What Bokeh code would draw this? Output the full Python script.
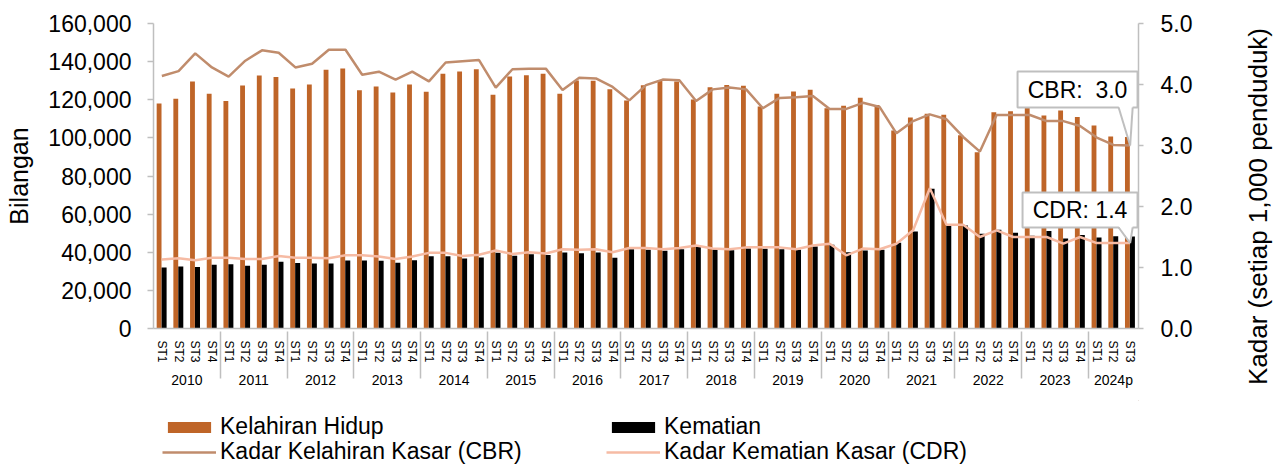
import math
from bokeh.plotting import figure
from bokeh.layouts import row, column
from bokeh.models import (FactorRange, Range1d, LinearAxis, FixedTicker, NumeralTickFormatter,
                          ColumnDataSource, Legend, LegendItem)
from bokeh.transform import dodge
from bokeh.core.properties import value
from bokeh.embed import file_html
from bokeh.resources import INLINE

# ---------------- data ----------------
years = ["2010", "2011", "2012", "2013", "2014", "2015", "2016", "2017",
         "2018", "2019", "2020", "2021", "2022", "2023", "2024p"]
quarters_per_year = [4, 4, 4, 4, 4, 4, 4, 4, 4, 4, 4, 4, 4, 4, 3]
quarter_labels = ["ST1", "ST2", "ST3", "ST4"]

births = [118000, 120500, 129600, 123100,
          119400, 127500, 132700, 131900,
          125900, 128000, 135700, 136400,
          125000, 127000, 123800, 128000,
          124200, 133600, 134800, 136000,
          122600, 132200, 132900, 133600,
          123100, 130100, 130000, 125500,
          119600, 127600, 130100, 129600,
          120100, 126600, 127800, 127300,
          116500, 123100, 124300, 125200,
          115600, 116800, 121000, 117200,
          103900, 110700, 112600, 112100,
          101400, 92500, 113500, 114000,
          116000, 111700, 114400, 110900,
          106500, 100700, 100500]

deaths = [32000, 32500, 32200, 33400,
          33700, 32900, 33400, 35000,
          34300, 34100, 34100, 35700,
          35700, 35500, 34500, 35800,
          37900, 37900, 36700, 37200,
          39700, 38100, 39000, 38500,
          39900, 39500, 39900, 37100,
          41600, 41300, 40800, 41600,
          42800, 41400, 41100, 42000,
          41800, 41600, 41300, 43000,
          44000, 40000, 40900, 41300,
          45000, 50900, 73300, 54400,
          54000, 49700, 51800, 50200,
          48600, 51200, 47200, 49100,
          47700, 48400, 48300]

cbr = [4.14, 4.22, 4.51, 4.28,
       4.13, 4.39, 4.56, 4.52,
       4.28, 4.34, 4.57, 4.57,
       4.16, 4.21, 4.08, 4.21,
       4.05, 4.36, 4.38, 4.40,
       3.95, 4.25, 4.26, 4.26,
       3.91, 4.11, 4.10, 3.96,
       3.74, 3.99, 4.08, 4.07,
       3.73, 3.92, 3.95, 3.92,
       3.61, 3.78, 3.79, 3.81,
       3.60, 3.60, 3.70, 3.63,
       3.20, 3.40, 3.51, 3.43,
       3.14, 2.90, 3.50, 3.50,
       3.50, 3.40, 3.40, 3.32,
       3.13, 3.01, 3.00]

cdr = [1.13, 1.15, 1.12, 1.16,
       1.16, 1.14, 1.14, 1.19,
       1.16, 1.16, 1.15, 1.20,
       1.20, 1.18, 1.14, 1.18,
       1.24, 1.24, 1.19, 1.21,
       1.28, 1.22, 1.25, 1.23,
       1.30, 1.29, 1.30, 1.25,
       1.32, 1.32, 1.30, 1.32,
       1.36, 1.31, 1.30, 1.33,
       1.33, 1.33, 1.30, 1.36,
       1.39, 1.20, 1.31, 1.30,
       1.39, 1.61, 2.30, 1.70,
       1.70, 1.50, 1.61, 1.50,
       1.50, 1.50, 1.39, 1.50,
       1.40, 1.40, 1.40]

left_ticks = [0, 20000, 40000, 60000, 80000, 100000, 120000, 140000, 160000]
right_ticks = [0, 1, 2, 3, 4, 5]

# ---------------- styling ----------------
FONT = "Liberation Sans"
C_BIRTH = "#bf6528"
C_DEATH = "#000000"
C_CBR = "#c08c6c"
C_CDR = "#f6bba4"
C_AXIS = "#bfbfbf"

factors = [(y, quarter_labels[k]) for y, n in zip(years, quarters_per_year) for k in range(n)]
src = ColumnDataSource(dict(x=factors, births=births, deaths=deaths, cbr=cbr, cdr=cdr))

TOTAL_W, TOTAL_H = 1273, 468
TITLE_W = 33                      # strip at right for the right-axis title
LEG_H = 68                        # strip at bottom for the legend
W, H = TOTAL_W - TITLE_W, TOTAL_H - LEG_H
ML, MR, MT, MB = 153, W - 1138, 23, H - 328

p = figure(width=W, height=H,
           x_range=FactorRange(*factors, factor_padding=0, group_padding=0,
                               subgroup_padding=0, range_padding=0),
           y_range=Range1d(0, 160000),
           output_backend="svg", toolbar_location=None,
           min_border_left=ML, min_border_right=MR,
           min_border_top=MT, min_border_bottom=MB)
p.extra_y_ranges = {"rate": Range1d(0, 5)}
p.outline_line_color = None
p.xgrid.visible = False
p.ygrid.visible = False
p.background_fill_color = "white"
p.border_fill_color = "white"

# left axis
ya = p.yaxis[0]
ya.ticker = FixedTicker(ticks=left_ticks)
ya.formatter = NumeralTickFormatter(format="0,0")
ya.axis_label = "Bilangan"
ya.axis_label_text_font = FONT
ya.axis_label_text_font_size = "25px"
ya.axis_label_text_font_style = "normal"
ya.axis_label_text_color = "black"
ya.axis_label_standoff = 12
ya.major_label_text_font = FONT
ya.major_label_text_font_size = "23px"
ya.major_label_text_color = "black"
ya.major_label_standoff = 16
ya.axis_line_color = C_AXIS
ya.axis_line_width = 1.5
ya.major_tick_line_color = C_AXIS
ya.major_tick_line_width = 1.5
ya.major_tick_in = 0
ya.major_tick_out = 6
ya.minor_tick_line_color = None

# right axis
ra = LinearAxis(y_range_name="rate", ticker=FixedTicker(ticks=right_ticks),
                formatter=NumeralTickFormatter(format="0.0"))
ra.major_label_text_font = FONT
ra.major_label_text_font_size = "23px"
ra.major_label_text_color = "black"
ra.major_label_standoff = 17
ra.axis_line_color = C_AXIS
ra.axis_line_width = 1.5
ra.major_tick_line_color = C_AXIS
ra.major_tick_line_width = 1.5
ra.major_tick_in = 0
ra.major_tick_out = 5
ra.minor_tick_line_color = None
p.add_layout(ra, "right")

# x axis
xa = p.xaxis[0]
xa.major_label_orientation = "vertical"
xa.major_label_text_font = FONT
xa.major_label_text_font_size = "12px"
xa.major_label_text_color = "black"
xa.major_label_standoff = 6
xa.group_text_font = FONT
xa.group_text_font_size = "14px"
xa.group_text_color = "black"
xa.group_text_font_style = "normal"
xa.major_tick_line_color = None
xa.axis_line_color = C_AXIS
xa.axis_line_width = 1.5
xa.separator_line_color = C_AXIS
xa.separator_line_width = 1.5

# ---------------- glyphs ----------------
rb = p.vbar(x=dodge("x", -0.165, range=p.x_range), top="births", width=0.29,
            source=src, fill_color=C_BIRTH, line_color=None)
rd = p.vbar(x=dodge("x", 0.135, range=p.x_range), top="deaths", width=0.30,
            source=src, fill_color=C_DEATH, line_color=None)
lc = p.line(x="x", y="cbr", source=src, y_range_name="rate", line_color=C_CBR, line_width=2.5)
ld = p.line(x="x", y="cdr", source=src, y_range_name="rate", line_color=C_CDR, line_width=2.5)

# ---------------- callouts on the last point ----------------
n = len(factors)
x_last = n - 0.5                       # synthetic coordinate of last factor
PX_X = (W - ML - MR) / n               # pixels per category
PX_Y = (H - MT - MB) / 5.0             # pixels per rate unit


def callout(anchor_y, text, left_px, right_px, bot_px, top_px):
    x0 = x_last + left_px / PX_X
    x1 = x_last + right_px / PX_X
    y0 = anchor_y + bot_px / PX_Y
    y1 = anchor_y + top_px / PX_Y
    p.quad(left=[x0], right=[x1], bottom=[y0], top=[y1], y_range_name="rate",
           fill_color="white", line_color=C_AXIS, line_width=2)
    bx0 = x_last + (-11.5) / PX_X
    bx1 = x_last + 2.5 / PX_X
    yin = y0 + 1.5 / PX_Y
    p.patch(x=[bx0, bx1, x_last], y=[yin, yin, anchor_y], y_range_name="rate",
            fill_color="white", line_color=None)
    p.multi_line(xs=[[bx0, x_last], [bx1, x_last]], ys=[[y0, anchor_y], [y0, anchor_y]],
                 y_range_name="rate", line_color=C_AXIS, line_width=2)
    p.text(x=[(x0 + x1) / 2], y=[(y0 + y1) / 2], text=[text], y_range_name="rate",
           text_font=value(FONT), text_font_size="23px", text_color="black",
           text_align="center", text_baseline="middle")


callout(cbr[-1], "CBR:\u00a0 %.1f" % cbr[-1], -112.6, 7.4, 38, 74)
callout(cdr[-1], "CDR: %.1f" % cdr[-1], -107.6, 7.4, 15.6, 50.6)

# ---------------- right-axis title strip ----------------
pt = figure(width=TITLE_W, height=TOTAL_H, x_range=Range1d(0, TITLE_W),
            y_range=Range1d(0, TOTAL_H), output_backend="svg", toolbar_location=None,
            x_axis_location=None, y_axis_location=None,
            min_border_left=0, min_border_right=0, min_border_top=0, min_border_bottom=0)
pt.outline_line_color = None
pt.xgrid.visible = False
pt.ygrid.visible = False
pt.text(x=[TITLE_W / 2 + 1], y=[TOTAL_H - 206], text=["Kadar (setiap 1,000 penduduk)"],
        angle=math.pi / 2, text_font=value(FONT), text_font_size="26px",
        text_color="black", text_align="center", text_baseline="middle")

# ---------------- legend strip ----------------
pl = figure(width=W, height=LEG_H, x_range=Range1d(0, 1), y_range=Range1d(0, 1),
            output_backend="svg", toolbar_location=None,
            x_axis_location=None, y_axis_location=None,
            min_border_left=0, min_border_right=0, min_border_top=0, min_border_bottom=0)
pl.outline_line_color = None
pl.xgrid.visible = False
pl.ygrid.visible = False
# legend-only renderers, placed outside the visible range
lb = pl.vbar(x=[5], top=[6], bottom=[5], width=0.1, fill_color=C_BIRTH, line_color=None)
lx = pl.vbar(x=[5], top=[6], bottom=[5], width=0.1, fill_color=C_DEATH, line_color=None)
l1 = pl.line(x=[5, 6], y=[5, 5], line_color=C_CBR, line_width=2.5)
l2 = pl.line(x=[5, 6], y=[5, 5], line_color=C_CDR, line_width=2.5)

LEG_X = 162 - ML   # legend frame is aligned with the chart frame


def make_legend(items, vy):
    return Legend(items=items, orientation="horizontal", location=(LEG_X, vy),
                  glyph_width=54, glyph_height=14, label_height=24, label_width=386,
                  label_standoff=4, spacing=0, padding=0, margin=0,
                  label_text_font=FONT, label_text_font_size="23px",
                  label_text_color="black",
                  border_line_color=None, background_fill_alpha=0)


pl.add_layout(make_legend([LegendItem(label="Kelahiran Hidup", renderers=[lb]),
                           LegendItem(label="Kematian", renderers=[lx])], 28), "center")
pl.add_layout(make_legend([LegendItem(label="Kadar Kelahiran Kasar (CBR)", renderers=[l1]),
                           LegendItem(label="Kadar Kematian Kasar (CDR)", renderers=[l2])], 3),
              "center")

layout = row(column(p, pl, spacing=0), pt, spacing=0)

open("out.html", "w").write(file_html(layout, INLINE))
